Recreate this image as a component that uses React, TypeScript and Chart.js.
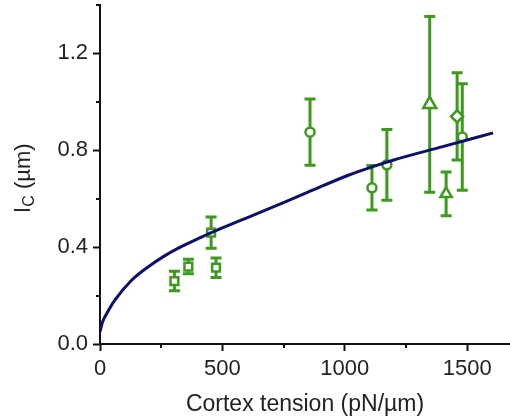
import { useEffect, useRef } from 'react';
import { Chart, registerables } from 'chart.js';

Chart.register(...registerables);

const FONT = "'Liberation Sans', Arial, Helvetica, sans-serif";
const TEXT_COLOR = '#222222';
const GREEN = '#3c9a1c';
const NAVY = '#0c0f6b';

// Measured data points (cortex tension pN/µm vs l_C µm)
const tension = [304, 361, 474, 454, 858, 1111, 1172, 1347, 1414, 1459, 1480];
const lengthC = [0.26, 0.32, 0.315, 0.46, 0.875, 0.645, 0.74, 0.99, 0.62, 0.94, 0.855];
const lengthErr = [0.04, 0.03, 0.04, 0.065, 0.137, 0.092, 0.146, 0.363, 0.09, 0.18, 0.22];
const markerShapes = ['rect', 'rect', 'rect', 'rect', 'circle', 'circle', 'circle', 'triangle', 'triangle', 'rectRot', 'circle'];
const markerSizes = [5.5, 5.5, 5.5, 5.5, 4.5, 4.5, 4.5, 7.5, 6.5, 6, 4.5];

// Fitted curve
const fitTension = [0, 10, 30, 60, 128, 196, 264, 332, 400, 469, 537, 605, 845, 1017, 1117, 1200, 1400, 1606];
const fitLength = [0.05, 0.09, 0.13, 0.18, 0.262, 0.318, 0.364, 0.402, 0.435, 0.466, 0.495, 0.523, 0.625, 0.698, 0.733, 0.76, 0.815, 0.872];

// Axes
const xMajor = [0, 500, 1000, 1500];
const xMinor = [250, 750, 1250];
const yMajor = [0, 0.4, 0.8, 1.2];
const yMinor = [0.2, 0.6, 1.0, 1.4];
const X_MIN = 0;
const X_MAX = 1675;
const Y_MIN = 0;
const Y_MAX = 1.4;

const xTitle = 'Cortex tension (pN/µm)';
const yTitleMain = 'l';
const yTitleSub = 'C';
const yTitleUnit = ' (µm)';

const errorBarPlugin = {
  id: 'errorBars',
  beforeDatasetsDraw(chart: any) {
    const { ctx } = chart;
    const xs = chart.scales.x;
    const ys = chart.scales.y;
    ctx.save();
    ctx.strokeStyle = GREEN;
    ctx.lineWidth = 3;
    ctx.lineCap = 'butt';
    const cap = 5.5;
    for (let i = 0; i < tension.length; i++) {
      const px = xs.getPixelForValue(tension[i]);
      const top = ys.getPixelForValue(lengthC[i] + lengthErr[i]);
      const bot = ys.getPixelForValue(lengthC[i] - lengthErr[i]);
      ctx.beginPath();
      ctx.moveTo(px, top);
      ctx.lineTo(px, bot);
      ctx.moveTo(px - cap, top);
      ctx.lineTo(px + cap, top);
      ctx.moveTo(px - cap, bot);
      ctx.lineTo(px + cap, bot);
      ctx.stroke();
    }
    ctx.restore();
  },
};

const minorTickPlugin = {
  id: 'minorTicks',
  afterDraw(chart: any) {
    const { ctx, chartArea } = chart;
    const xs = chart.scales.x;
    const ys = chart.scales.y;
    ctx.save();
    ctx.strokeStyle = '#111111';
    ctx.lineWidth = 2;
    ctx.beginPath();
    for (const v of xMinor) {
      const px = Math.round(xs.getPixelForValue(v));
      ctx.moveTo(px, chartArea.bottom);
      ctx.lineTo(px, chartArea.bottom + 4);
    }
    for (const v of yMinor) {
      const py = Math.round(ys.getPixelForValue(v));
      ctx.moveTo(chartArea.left, py);
      ctx.lineTo(chartArea.left - 4, py);
    }
    ctx.stroke();
    ctx.restore();
  },
};

const yTitlePlugin = {
  id: 'yTitleSub',
  afterDraw(chart: any) {
    const { ctx, chartArea } = chart;
    const cy = (chartArea.top + chartArea.bottom) / 2 + 4;
    ctx.save();
    ctx.translate(30, cy);
    ctx.rotate(-Math.PI / 2);
    ctx.fillStyle = TEXT_COLOR;
    ctx.textBaseline = 'alphabetic';
    ctx.textAlign = 'left';
    const big = `22px ${FONT}`;
    const small = `16px ${FONT}`;
    ctx.font = big;
    const w1 = ctx.measureText(yTitleMain).width;
    const w3 = ctx.measureText(yTitleUnit).width;
    ctx.font = small;
    const w2 = ctx.measureText(yTitleSub).width;
    let x = -(w1 + w2 + w3) / 2;
    ctx.font = big;
    ctx.fillText(yTitleMain, x, 0);
    x += w1 + 1;
    ctx.font = small;
    ctx.fillText(yTitleSub, x, 4);
    x += w2;
    ctx.font = big;
    ctx.fillText(yTitleUnit, x, 0);
    ctx.restore();
  },
};

export default function App() {
  const ref = useRef<HTMLCanvasElement>(null);
  useEffect(() => {
    const canvas = ref.current;
    if (!canvas) return;
    const chart = new Chart(canvas, {
      type: 'line',
      data: {
        datasets: [
          {
            type: 'line',
            label: 'fit',
            data: fitTension.map((x, i) => ({ x, y: fitLength[i] })),
            borderColor: NAVY,
            borderWidth: 3,
            pointRadius: 0,
            fill: false,
            cubicInterpolationMode: 'monotone',
            order: 0,
          } as any,
          {
            type: 'scatter',
            label: 'data',
            data: tension.map((x, i) => ({ x, y: lengthC[i] })),
            pointStyle: markerShapes as any,
            pointRadius: markerSizes,
            borderColor: GREEN,
            backgroundColor: '#ffffff',
            borderWidth: 2.5,
            showLine: false,
            order: 1,
          } as any,
        ],
      },
      options: {
        responsive: false,
        animation: false,
        events: [],
        layout: { autoPadding: false, padding: { top: 5, right: 0, bottom: 0, left: 0 } },
        plugins: {
          legend: { display: false },
          tooltip: { enabled: false },
          title: { display: false },
        },
        scales: {
          x: {
            type: 'linear',
            min: X_MIN,
            max: X_MAX,
            afterBuildTicks: (s: any) => {
              s.ticks = xMajor.map((v) => ({ value: v }));
            },
            afterFit: (s: any) => {
              s.height = 74;
              s.paddingLeft = 0;
              s.paddingRight = 0;
            },
            grid: { drawOnChartArea: false, tickLength: 7, tickWidth: 2, tickColor: '#111111' },
            border: { display: true, color: '#111111', width: 2 },
            ticks: {
              font: { size: 22, family: FONT },
              color: TEXT_COLOR,
              padding: 5,
              maxRotation: 0,
              callback: (v: any) => String(v),
            },
            title: {
              display: true,
              text: xTitle,
              font: { size: 23, family: FONT },
              color: TEXT_COLOR,
              padding: { top: 0, bottom: 0 },
            },
          },
          y: {
            type: 'linear',
            min: Y_MIN,
            max: Y_MAX,
            afterBuildTicks: (s: any) => {
              s.ticks = yMajor.map((v) => ({ value: v }));
            },
            afterFit: (s: any) => {
              s.width = 100;
              s.paddingTop = 0;
              s.paddingBottom = 0;
            },
            grid: { drawOnChartArea: false, tickLength: 7, tickWidth: 2, tickColor: '#111111' },
            border: { display: true, color: '#111111', width: 2 },
            ticks: {
              font: { size: 22, family: FONT },
              color: TEXT_COLOR,
              padding: 5,
              callback: (v: any) => Number(v).toFixed(1),
            },
            title: { display: false },
          },
        },
      },
      plugins: [errorBarPlugin, minorTickPlugin, yTitlePlugin],
    });
    return () => chart.destroy();
  }, []);
  return (
    <div style={{ position: 'absolute', left: 0, top: 0, width: 510, height: 418, background: '#fff' }}>
      <canvas ref={ref} width={510} height={418} style={{ display: 'block' }} />
    </div>
  );
}
